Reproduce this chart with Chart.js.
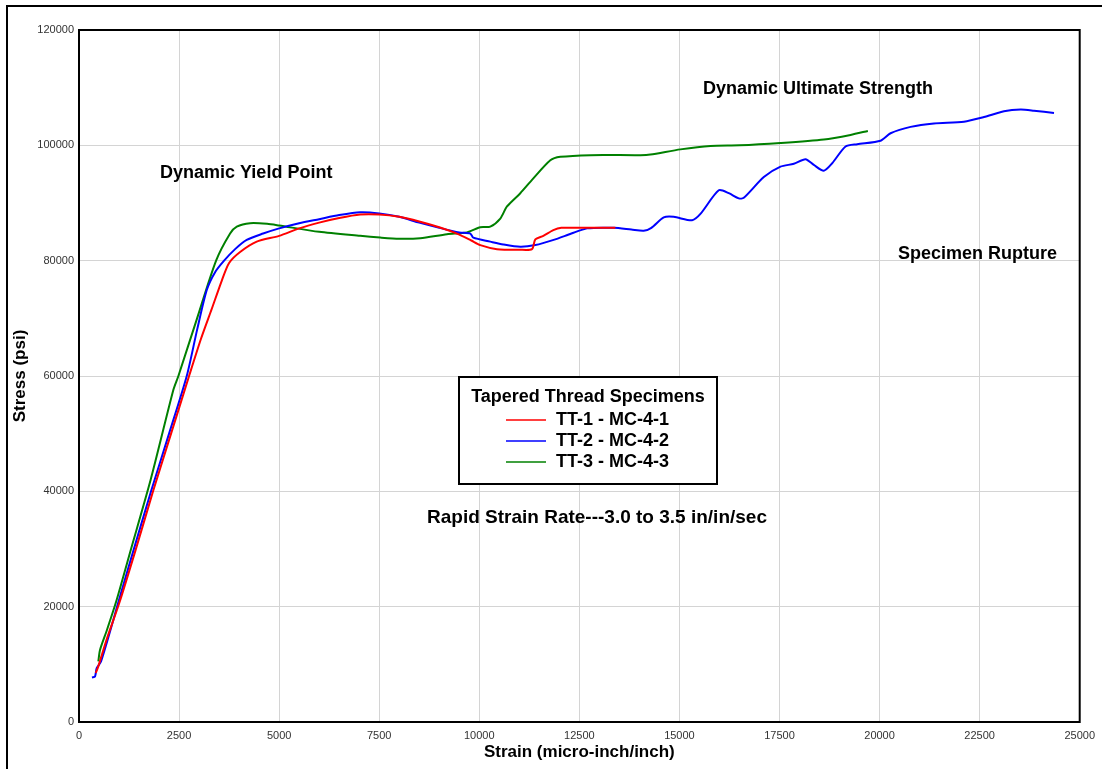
<!DOCTYPE html>
<html>
<head>
<meta charset="utf-8">
<script src="https://cdn.jsdelivr.net/npm/chart.js@4.4.1/dist/chart.umd.min.js"></script>
<style>
html,body{margin:0;padding:0;background:#fff;}
#wrap{position:relative;width:1102px;height:769px;}
</style>
</head>
<body>
<div id="wrap"><canvas id="c" width="1102" height="769"></canvas></div>
<script>
// ---- Data (strain in micro-inch/inch, stress in psi) ----
const seriesNames = ["TT-1 - MC-4-1", "TT-2 - MC-4-2", "TT-3 - MC-4-3"];
const seriesColors = ["#ff0000", "#0000ff", "#008000"];

const tt1Strain = [420,480,700,1000,1400,1850,2300,2750,3050,3320,3570,3750,4025,4440,5000,5500,6000,6500,7025,7500,8000,8500,9000,9442,9800,10025,10442,11000,11317,11400,11600,11850,12050,12500,13000,13400];
const tt1Stress = [8500,9600,14500,20500,29500,40000,50000,60000,66500,71700,76600,79600,81500,83300,84300,85600,86600,87400,88000,88000,87600,86800,85800,84700,83500,82700,82000,81900,82000,83700,84300,85300,85700,85700,85700,85700];

const tt2Strain = [325,400,440,550,858,950,1350,1800,2250,2692,2950,3192,3400,3625,3900,4190,4600,5000,5500,6000,6500,7025,7500,8000,8500,9000,9500,9775,9850,10275,10600,11025,11400,11858,12300,12692,13358,13800,14108,14300,14608,14858,15317,15525,15983,16233,16483,16608,17108,17525,17858,18150,18358,18608,18817,19150,19442,20025,20275,20775,21358,22108,22608,23108,23525,23858,24358];
const tt2Stress = [7700,7900,9300,10500,17700,20000,29500,40000,50000,60000,68000,74900,78000,80000,82000,83600,84700,85600,86500,87200,87900,88400,88200,87600,86600,85700,84900,84700,84000,83300,82800,82400,82700,83600,84700,85600,85700,85400,85200,85700,87500,87600,87000,88100,92200,91700,90800,90900,94500,96300,96800,97600,96600,95600,96900,99800,100200,100800,102100,103200,103800,104100,104900,105900,106200,106000,105600];

const tt3Strain = [483,525,700,942,1300,1790,2358,2483,2950,3425,3775,3942,4275,4700,5000,6000,7025,7525,8000,8525,9192,9692,10025,10275,10525,10692,11025,11317,11775,12025,12775,14025,14275,15025,15775,16500,17525,18608,19275,19708];
const tt3Stress = [10500,12500,16000,21200,30000,42000,57600,60000,70000,80000,84700,85900,86500,86400,86100,85000,84300,84000,83800,83900,84600,84900,85800,85900,87300,89400,91700,94000,97400,98000,98300,98300,98400,99300,99900,100000,100400,101000,101800,102500];

const xTicks = [0,2500,5000,7500,10000,12500,15000,17500,20000,22500,25000];
const yTicks = [0,20000,40000,60000,80000,100000,120000];

const xTitle = "Strain (micro-inch/inch)";
const yTitle = "Stress (psi)";
const legendTitle = "Tapered Thread Specimens";
const notes = [
  {text:"Dynamic Yield Point", x:160, y:173, size:18},
  {text:"Dynamic Ultimate Strength", x:703, y:89, size:18},
  {text:"Specimen Rupture", x:898, y:254, size:18},
  {text:"Rapid Strain Rate---3.0 to 3.5 in/in/sec", x:427, y:518, size:19}
];

const FONT = "'Liberation Sans', Arial, sans-serif";

function pts(xs, ys){ return xs.map((x,i)=>({x:x, y:ys[i]})); }

const datasets = [
  {label:seriesNames[0], data:pts(tt1Strain, tt1Stress)},
  {label:seriesNames[1], data:pts(tt2Strain, tt2Stress)},
  {label:seriesNames[2], data:pts(tt3Strain, tt3Stress)}
].map((d,i)=>Object.assign(d,{
  borderColor:seriesColors[i], backgroundColor:seriesColors[i],
  borderWidth:2, pointRadius:0, showLine:true, tension:0.25, fill:false
}));

const decor = {
  id:'decor',
  beforeDraw(chart){
    const ctx = chart.ctx;
    ctx.save();
    ctx.fillStyle = '#fff';
    ctx.fillRect(0,0,chart.width,chart.height);
    ctx.strokeStyle = '#000';
    ctx.lineWidth = 2;
    ctx.strokeRect(7,6,1120,800);
    ctx.restore();
  },
  afterDatasetsDraw(chart){
    const ctx = chart.ctx;
    const a = chart.chartArea;
    ctx.save();
    ctx.strokeStyle = '#000';
    ctx.lineWidth = 2;
    ctx.strokeRect(a.left, a.top, a.right-a.left, a.bottom-a.top);
    // annotations
    ctx.fillStyle = '#000';
    ctx.textBaseline = 'middle';
    ctx.textAlign = 'left';
    notes.forEach(n=>{ ctx.font = 'bold ' + n.size + 'px ' + FONT; ctx.fillText(n.text, n.x, n.y); });
    ctx.font = 'bold 18px ' + FONT;
    // legend box
    const bx=459, by=377, bw=258, bh=107;
    ctx.fillStyle = '#fff';
    ctx.fillRect(bx,by,bw,bh);
    ctx.lineWidth = 2;
    ctx.strokeRect(bx,by,bw,bh);
    ctx.fillStyle = '#000';
    ctx.textAlign = 'center';
    ctx.fillText(legendTitle, bx+bw/2, 397);
    ctx.textAlign = 'left';
    seriesNames.forEach((nm,i)=>{
      const y = 420 + i*21;
      ctx.strokeStyle = seriesColors[i];
      ctx.lineWidth = 1.5;
      ctx.beginPath(); ctx.moveTo(506,y); ctx.lineTo(546,y); ctx.stroke();
      ctx.fillText(nm, 556, y);
    });
    ctx.restore();
  }
};

new Chart(document.getElementById('c'), {
  type:'scatter',
  data:{datasets:datasets},
  options:{
    responsive:false, animation:false,
    layout:{padding:{left:0, top:30, right:22, bottom:0}},
    plugins:{legend:{display:false}, tooltip:{enabled:false}},
    scales:{
      x:{
        type:'linear', min:0, max:25000,
        afterBuildTicks(s){ s.ticks = xTicks.map(v=>({value:v})); },
        afterFit(s){ s.height = 47; },
        grid:{color:'#d4d4d4', lineWidth:1, drawTicks:false},
        border:{display:false},
        ticks:{padding:7, color:'#333', font:{family:FONT, size:11}, maxRotation:0, callback:v=>String(v)},
        title:{display:true, text:xTitle, color:'#000', font:{family:FONT, size:17, weight:'bold'}, padding:{top:0,bottom:6}}
      },
      y:{
        type:'linear', min:0, max:120000,
        afterBuildTicks(s){ s.ticks = yTicks.map(v=>({value:v})); },
        afterFit(s){ s.width = 79; },
        grid:{color:'#d4d4d4', lineWidth:1, drawTicks:false},
        border:{display:false},
        ticks:{padding:5, color:'#333', font:{family:FONT, size:11}, callback:v=>String(v)},
        title:{display:true, text:yTitle, color:'#000', font:{family:FONT, size:17, weight:'bold'}, padding:{top:10,bottom:0}}
      }
    }
  },
  plugins:[decor]
});
</script>
</body>
</html>
